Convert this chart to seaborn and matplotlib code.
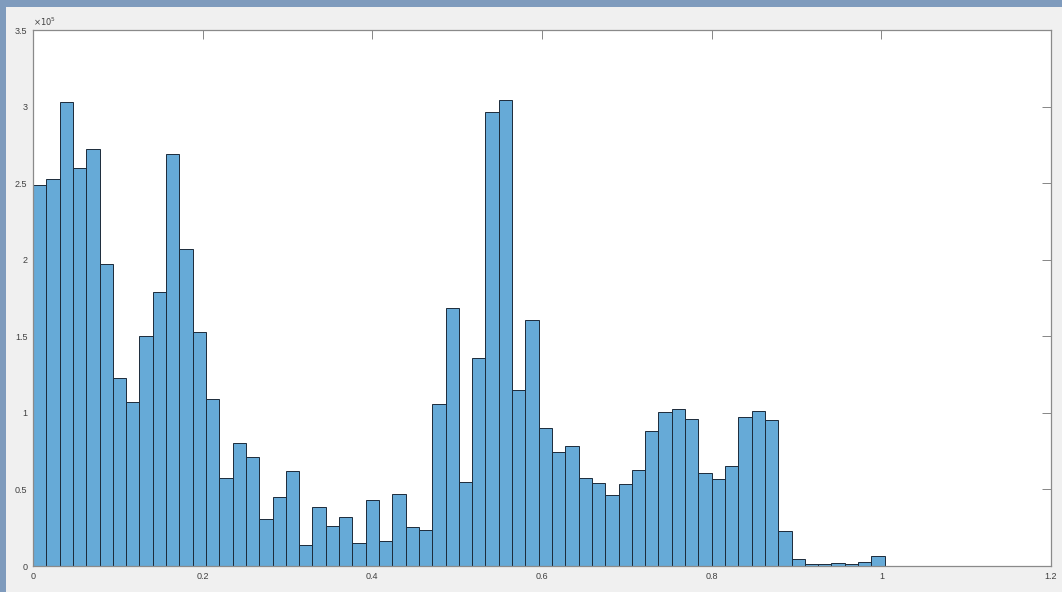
import numpy as np
import pandas as pd
import matplotlib
matplotlib.use("Agg")
import matplotlib.pyplot as plt
import seaborn as sns
from matplotlib.ticker import FuncFormatter
from matplotlib.patches import Rectangle

sns.set_style("white")
plt.rcParams["font.family"] = ["Liberation Sans", "DejaVu Sans"]

# histogram counts (x 1e5), 64 equal bins from 0 to ~1.004
counts_e5 = [
    2.49, 2.53, 3.03, 2.60, 2.72, 1.97, 1.23, 1.07, 1.50, 1.79,
    2.69, 2.07, 1.53, 1.09, 0.575, 0.805, 0.71, 0.31, 0.45, 0.62,
    0.135, 0.385, 0.26, 0.322, 0.15, 0.434, 0.163, 0.469, 0.254, 0.238,
    1.055, 1.685, 0.547, 1.357, 2.964, 3.042, 1.147, 1.605, 0.903, 0.747,
    0.782, 0.573, 0.541, 0.464, 0.538, 0.627, 0.881, 1.005, 1.023, 0.958,
    0.61, 0.567, 0.651, 0.971, 1.012, 0.951, 0.23, 0.046, 0.013, 0.013,
    0.02, 0.015, 0.026, 0.065,
]
bin_start = 0.0
bin_end = 1.004
x_ticks = [0, 0.2, 0.4, 0.6, 0.8, 1.0, 1.2]
y_ticks = [0, 0.5e5, 1e5, 1.5e5, 2e5, 2.5e5, 3e5, 3.5e5]

edges = np.linspace(bin_start, bin_end, len(counts_e5) + 1)
df = pd.DataFrame({
    "x": (edges[:-1] + edges[1:]) / 2,
    "count": np.array(counts_e5) * 1e5,
})

W, H = 1062, 592
fig = plt.figure(figsize=(W / 100, H / 100), dpi=100, facecolor="#f0f0f0")

# window frame strips
fig.patches.append(Rectangle((0, (H - 7) / H), 1, 7 / H, transform=fig.transFigure,
                             facecolor="#7f9bbd", edgecolor="none", zorder=0))
fig.patches.append(Rectangle((0, 0), 6 / W, 1, transform=fig.transFigure,
                             facecolor="#7f9bbd", edgecolor="none", zorder=0))

ax = fig.add_axes([33 / W, (H - 566) / H, (1051 - 33) / W, (566 - 30) / H])
ax.set_facecolor("white")

sns.histplot(
    data=df,
    x="x",
    weights="count",
    bins=list(edges),
    color="#66aad7",
    alpha=1,
    edgecolor="#1c2a3a",
    linewidth=0.7,
    ax=ax,
)

ax.set_xlim(0, 1.2)
ax.set_ylim(0, 3.5e5)
ax.set_xticks(x_ticks)
ax.set_yticks(y_ticks)
ax.xaxis.set_major_formatter(FuncFormatter(lambda v, p: "%g" % v))
ax.yaxis.set_major_formatter(FuncFormatter(lambda v, p: "%g" % (v / 1e5)))
ax.set_xlabel("")
ax.set_ylabel("")

ax.tick_params(direction="in", length=6.5, width=0.7, colors="#868686",
               labelcolor="#404040", labelsize=6.5, top=True, right=True,
               pad=4)
for s in ax.spines.values():
    s.set_color("#8a8a8a")
    s.set_linewidth(0.9)
    s.set_visible(True)

ax.text(0.0, 1.004, r"$\times10^{5}$", transform=ax.transAxes, fontsize=6,
        color="#404040", ha="left", va="bottom")

plt.savefig("out.png", dpi=100, facecolor=fig.get_facecolor())
